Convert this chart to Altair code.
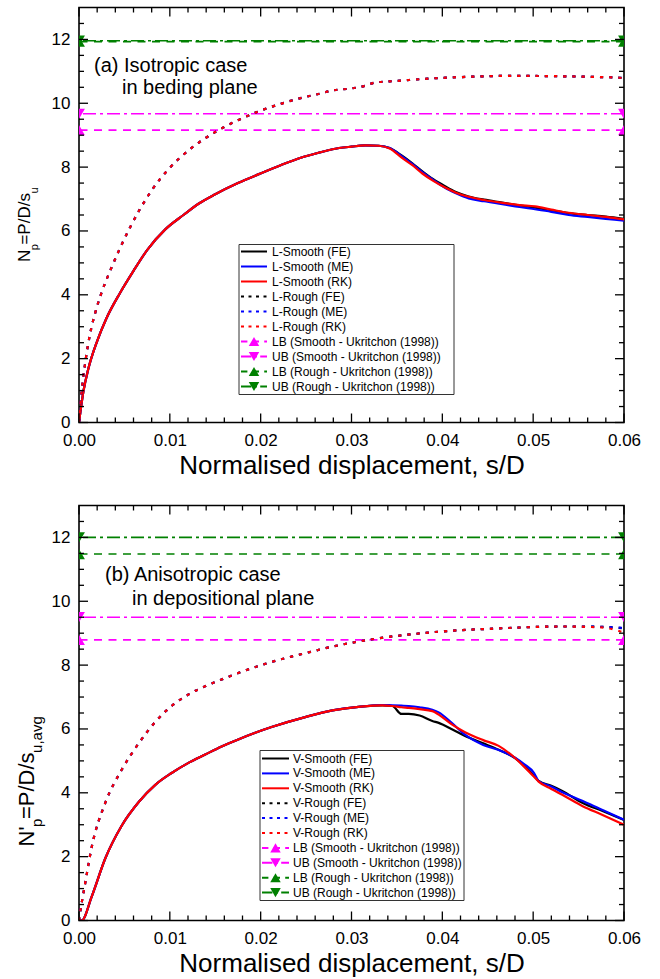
import altair as alt
import pandas as pd

FONT = "Liberation Sans"
W, H = 545, 415

# ---------------- axis ticks ----------------
x_major = [0.0, 0.01, 0.02, 0.03, 0.04, 0.05, 0.06]
x_minor = [0.002, 0.004, 0.006, 0.008, 0.012, 0.014, 0.016, 0.018, 0.022, 0.024,
           0.026, 0.028, 0.032, 0.034, 0.036, 0.038, 0.042, 0.044, 0.046, 0.048,
           0.052, 0.054, 0.056, 0.058]
y_major = [0, 2, 4, 6, 8, 10, 12]
y_minor = [0.5, 1, 1.5, 2.5, 3, 3.5, 4.5, 5, 5.5, 6.5, 7, 7.5, 8.5, 9, 9.5,
           10.5, 11, 11.5, 12.5]

# ---------------- panel (a) data ----------------
a_smooth_x = [0, 0.0005, 0.001, 0.002, 0.003, 0.0045, 0.006, 0.0075, 0.0095, 0.0115,
              0.0132, 0.015, 0.0175, 0.0198, 0.0222, 0.0245, 0.0265, 0.0279, 0.03, 0.0315,
              0.033, 0.0342, 0.0356, 0.0367, 0.0378, 0.039, 0.0403, 0.0415, 0.0429, 0.0446,
              0.0466, 0.0485, 0.0502, 0.052, 0.0539, 0.056, 0.058, 0.06]
a_smooth_fe = [0, 1.0, 1.65, 2.55, 3.25, 4.05, 4.75, 5.4, 6.05, 6.5,
               6.86, 7.15, 7.5, 7.78, 8.06, 8.3, 8.46, 8.56, 8.64, 8.68,
               8.67, 8.6, 8.35, 8.12, 7.87, 7.62, 7.4, 7.22, 7.08, 6.98,
               6.89, 6.8, 6.73, 6.65, 6.56, 6.5, 6.45, 6.38]
a_smooth_me = [0, 1.0, 1.65, 2.55, 3.25, 4.05, 4.75, 5.4, 6.05, 6.5,
               6.86, 7.15, 7.5, 7.78, 8.06, 8.3, 8.46, 8.56, 8.64, 8.68,
               8.67, 8.6, 8.33, 8.1, 7.84, 7.6, 7.35, 7.18, 7.02, 6.93,
               6.84, 6.75, 6.68, 6.6, 6.5, 6.44, 6.38, 6.32]
a_smooth_rk = [0, 1.0, 1.65, 2.55, 3.25, 4.05, 4.75, 5.4, 6.05, 6.5,
               6.86, 7.15, 7.5, 7.78, 8.06, 8.3, 8.46, 8.56, 8.64, 8.68,
               8.67, 8.58, 8.28, 8.06, 7.8, 7.57, 7.36, 7.2, 7.07, 6.97,
               6.88, 6.81, 6.77, 6.67, 6.57, 6.5, 6.44, 6.36]

a_rough_x = [0, 0.0003, 0.0007, 0.0012, 0.0018, 0.0024, 0.0035, 0.0045, 0.0056, 0.0067,
             0.008, 0.0099, 0.0124, 0.015, 0.0175, 0.0198, 0.0222, 0.0245, 0.0265, 0.0279,
             0.0301, 0.0315, 0.0326, 0.035, 0.0389, 0.043, 0.048, 0.052, 0.056, 0.0595, 0.06]
a_rough_fe = [0, 1.0, 1.9, 2.75, 3.45, 4.0, 4.8, 5.45, 6.1, 6.68,
              7.27, 7.95, 8.6, 9.1, 9.47, 9.75, 9.98, 10.17, 10.3, 10.4,
              10.47, 10.55, 10.65, 10.7, 10.78, 10.83, 10.86, 10.85, 10.83, 10.8, 10.78]
a_rough_me = [0, 1.0, 1.9, 2.75, 3.45, 4.0, 4.8, 5.45, 6.1, 6.68,
              7.27, 7.95, 8.6, 9.1, 9.47, 9.75, 9.98, 10.17, 10.3, 10.4,
              10.47, 10.55, 10.65, 10.7, 10.78, 10.83, 10.86, 10.85, 10.83, 10.8, 10.78]
a_rough_rk = [0, 1.0, 1.9, 2.75, 3.45, 4.0, 4.8, 5.45, 6.1, 6.68,
              7.27, 7.95, 8.6, 9.1, 9.47, 9.75, 9.98, 10.17, 10.3, 10.4,
              10.47, 10.55, 10.65, 10.7, 10.78, 10.83, 10.86, 10.85, 10.83, 10.8, 10.77]

# LB smooth, UB smooth, LB rough, UB rough
a_bounds = [9.16, 9.67, 11.93, 11.96]

# ---------------- panel (b) data ----------------
b_smooth_x = [0, 0.0003, 0.0014, 0.0029, 0.0047, 0.0066, 0.0084, 0.0102, 0.012, 0.0139,
              0.0157, 0.0176, 0.0194, 0.0212, 0.025, 0.0279, 0.031, 0.0334, 0.0345, 0.0355,
              0.0363, 0.0375, 0.0389, 0.0396, 0.041, 0.0425, 0.0445, 0.0462, 0.048, 0.049,
              0.0501, 0.0506, 0.052, 0.0532, 0.0554, 0.0577, 0.06]
b_smooth_fe = [0, 0, 0.75, 1.95, 2.97, 3.72, 4.25, 4.62, 4.93, 5.2,
               5.45, 5.68, 5.88, 6.06, 6.38, 6.58, 6.7, 6.74, 6.72, 6.47,
               6.47, 6.42, 6.25, 6.19, 6.0, 5.78, 5.55, 5.35, 5.09, 4.85,
               4.53, 4.37, 4.22, 4.06, 3.69, 3.42, 3.15]
b_smooth_me = [0, 0, 0.75, 1.95, 2.97, 3.72, 4.25, 4.62, 4.93, 5.2,
               5.45, 5.68, 5.88, 6.06, 6.38, 6.58, 6.7, 6.75, 6.74, 6.73,
               6.72, 6.68, 6.6, 6.52, 6.2, 5.82, 5.5, 5.34, 5.1, 4.9,
               4.62, 4.37, 4.2, 4.02, 3.75, 3.45, 3.16]
b_smooth_rk = [0, 0, 0.75, 1.95, 2.97, 3.72, 4.25, 4.62, 4.93, 5.2,
               5.45, 5.68, 5.88, 6.06, 6.38, 6.58, 6.7, 6.74, 6.72, 6.68,
               6.66, 6.62, 6.56, 6.45, 6.15, 5.9, 5.65, 5.47, 5.09, 4.82,
               4.5, 4.35, 4.12, 3.94, 3.59, 3.3, 3.0]

b_rough_x = [0, 0.0001, 0.0007, 0.0014, 0.0029, 0.0047, 0.0066, 0.0084, 0.0102, 0.012,
             0.0139, 0.0157, 0.0176, 0.0212, 0.025, 0.0279, 0.0323, 0.0389, 0.0462, 0.0535,
             0.0575, 0.06]
b_rough_fe = [0, 0.2, 1.2, 2.3, 3.69, 4.72, 5.56, 6.22, 6.72, 7.07,
              7.34, 7.55, 7.76, 8.1, 8.38, 8.58, 8.81, 9.03, 9.15, 9.21,
              9.2, 9.15]
b_rough_me = [0, 0.2, 1.2, 2.3, 3.69, 4.72, 5.56, 6.22, 6.72, 7.07,
              7.34, 7.55, 7.76, 8.1, 8.38, 8.58, 8.81, 9.03, 9.15, 9.21,
              9.2, 9.16]
b_rough_rk = [0, 0.2, 1.2, 2.3, 3.69, 4.72, 5.56, 6.22, 6.72, 7.07,
              7.34, 7.55, 7.76, 8.1, 8.38, 8.58, 8.81, 9.03, 9.15, 9.21,
              9.18, 9.02]

b_bounds = [8.79, 9.5, 11.48, 12.0]

# ---------------- legends / texts ----------------
a_legend = ["L-Smooth (FE)", "L-Smooth (ME)", "L-Smooth (RK)",
            "L-Rough (FE)", "L-Rough (ME)", "L-Rough (RK)",
            "LB (Smooth - Ukritchon (1998))", "UB (Smooth - Ukritchon (1998))",
            "LB (Rough - Ukritchon (1998))", "UB (Rough - Ukritchon (1998))"]
b_legend = ["V-Smooth (FE)", "V-Smooth (ME)", "V-Smooth (RK)",
            "V-Rough (FE)", "V-Rough (ME)", "V-Rough (RK)",
            "LB (Smooth - Ukritchon (1998))", "UB (Smooth - Ukritchon (1998))",
            "LB (Rough - Ukritchon (1998))", "UB (Rough  - Ukritchon (1998))"]
legend_colors = ["#000000", "#0000FF", "#FF0000", "#000000", "#0000FF", "#FF0000",
                 "#FF00FF", "#FF00FF", "#008000", "#008000"]
legend_styles = ["solid", "solid", "solid", "dot", "dot", "dot",
                 "dash", "dashdot", "dash", "dashdot"]
legend_shapes = ["none", "none", "none", "none", "none", "none",
                 "triangle-up", "triangle-down", "triangle-up", "triangle-down"]

a_annot = ["(a) Isotropic case", "in beding plane"]
b_annot = ["(b) Anisotropic case", "in depositional plane"]
x_title = "Normalised displacement, s/D"

DASH = {"solid": None, "dot": [3.2, 6], "dash": [8, 6.5], "dashdot": [13, 4, 3, 4]}
SERIES_COLORS = ["#000000", "#0000FF", "#FF0000"]

ARIAL = {"N": 0.722, "p": 0.556, "=": 0.584, "P": 0.667, "/": 0.278, "D": 0.722,
         "s": 0.5, "u": 0.556, "'": 0.191, ",": 0.278, "a": 0.556, "v": 0.5, "g": 0.556}


def tw(s, fs):
    return sum(ARIAL.get(c, 0.55) for c in s) * fs


XS = alt.Scale(domain=[0, 0.06], nice=False, zero=False)
YS = alt.Scale(domain=[0, 13], nice=False, zero=False)
XAX = alt.Axis(values=x_major, format=".2f", ticks=False, domain=False, grid=False,
               labelFont=FONT, labelFontSize=17, labelPadding=10, labelColor="black",
               labelFlush=False, labelOverlap=False,
               title=x_title, titleFont=FONT, titleFontSize=26, titleFontWeight="normal",
               titleColor="black", titlePadding=4)
YAX = alt.Axis(values=y_major, ticks=False, domain=False, grid=False,
               labelFont=FONT, labelFontSize=17, labelPadding=9, labelColor="black",
               labelFlush=False, labelOverlap=False, title=None)


def X(f):
    return alt.X(f, scale=XS, axis=XAX)


def Y(f):
    return alt.Y(f, scale=YS, axis=YAX)


def line_layer(xv, yv, color, style):
    df = pd.DataFrame({"x": xv, "y": yv})
    kw = dict(color=color, strokeWidth=2.2, interpolate="monotone", clip=True)
    if DASH[style]:
        kw["strokeDash"] = DASH[style]
    return alt.Chart(df).mark_line(**kw).encode(x=X("x:Q"), y=Y("y:Q"))


def bound_layers(val, color, style, shape):
    rdf = pd.DataFrame({"y": [val]})
    rule = alt.Chart(rdf).mark_rule(color=color, strokeWidth=1.6,
                                    strokeDash=DASH[style]).encode(y=Y("y:Q"))
    pdf = pd.DataFrame({"x": [0.0, 0.06], "y": [val, val]})
    pts = alt.Chart(pdf).mark_point(shape=shape, filled=True, size=140, color=color,
                                    opacity=1, clip=True).encode(x=X("x:Q"), y=Y("y:Q"))
    return [rule, pts]


def tick_layers():
    out = []
    for vals, ln in ((x_major, 9), (x_minor, 5)):
        df = pd.DataFrame({"v": vals})
        out.append(alt.Chart(df).mark_rule(color="black", strokeWidth=1.3).encode(
            x=X("v:Q"), y=alt.value(H), y2=alt.value(H - ln)))
        out.append(alt.Chart(df).mark_rule(color="black", strokeWidth=1.3).encode(
            x=X("v:Q"), y=alt.value(0), y2=alt.value(ln)))
    for vals, ln in ((y_major, 9), (y_minor, 5)):
        df = pd.DataFrame({"v": vals})
        out.append(alt.Chart(df).mark_rule(color="black", strokeWidth=1.3).encode(
            y=Y("v:Q"), x=alt.value(0), x2=alt.value(ln)))
        out.append(alt.Chart(df).mark_rule(color="black", strokeWidth=1.3).encode(
            y=Y("v:Q"), x=alt.value(W), x2=alt.value(W - ln)))
    return out


def axis_layer():
    df = pd.DataFrame({"x": [0.0, 0.06], "y": [0, 13]})
    return alt.Chart(df).mark_point(opacity=0).encode(x=X("x:Q"), y=Y("y:Q"))


def ytitle_layers(parts, base_x, sub_x, start_y):
    out = []
    y = start_y
    for txt, fs, is_sub in parts:
        df = pd.DataFrame({"t": [txt]})
        out.append(alt.Chart(df).mark_text(
            angle=270, align="left", baseline="alphabetic", font=FONT, fontSize=fs,
            color="black").encode(
            x=alt.value(sub_x if is_sub else base_x), y=alt.value(y), text="t:N"))
        y -= tw(txt, fs) - 0.5
    return out


def annot_layers(lines, pos):
    out = []
    for txt, (px, py) in zip(lines, pos):
        df = pd.DataFrame({"t": [txt]})
        out.append(alt.Chart(df).mark_text(
            align="left", baseline="alphabetic", font=FONT, fontSize=20, color="black").encode(
            x=alt.value(px), y=alt.value(py), text="t:N"))
    return out


def legend_layers(labels, box, row0, row_h, sw0, sw1, tx):
    df = pd.DataFrame({"label": labels, "color": legend_colors, "style": legend_styles,
                       "shape": legend_shapes, "row": list(range(len(labels)))})
    base = alt.Chart(df).transform_calculate(py=f"{row0} + datum.row * {row_h}")
    out = [alt.Chart(pd.DataFrame({"a": [0]})).mark_rect(
        fill="white", stroke="#333333", strokeWidth=1).encode(
        x=alt.value(box[0]), x2=alt.value(box[1]), y=alt.value(box[2]), y2=alt.value(box[3]))]
    ypix = alt.Y("py:Q", scale=None)
    for style in ("solid", "dot", "dash", "dashdot"):
        kw = dict(strokeWidth=2)
        if DASH[style]:
            kw["strokeDash"] = [d * 0.8 for d in DASH[style]] if style != "dot" else [3, 4.5]
        out.append(base.transform_filter(alt.datum.style == style).mark_rule(**kw).encode(
            x=alt.value(sw0), x2=alt.value(sw1), y=ypix,
            color=alt.Color("color:N", scale=None)))
    out.append(base.transform_filter(alt.datum.shape != "none").mark_point(
        filled=True, size=110, opacity=1).encode(
        x=alt.value((sw0 + sw1) / 2), y=ypix,
        shape=alt.Shape("shape:N", scale=None), color=alt.Color("color:N", scale=None)))
    out.append(base.mark_text(align="left", baseline="middle", font=FONT, fontSize=12,
                              color="black").encode(x=alt.value(tx), y=ypix, text="label:N"))
    return out


def panel(smooth_x, smooth, rough_x, rough, bounds, legend, leg_geom, annot, annot_pos,
          title_parts, title_geom):
    layers = [axis_layer()]
    styles = ["dash", "dashdot", "dash", "dashdot"]
    bcolors = ["#FF00FF", "#FF00FF", "#008000", "#008000"]
    shapes = ["triangle-up", "triangle-down", "triangle-up", "triangle-down"]
    for v, c, s, sh in zip(bounds, bcolors, styles, shapes):
        layers += bound_layers(v, c, s, sh)
    for yv, c in zip(smooth, SERIES_COLORS):
        layers.append(line_layer(smooth_x, yv, c, "solid"))
    for yv, c in zip(rough, SERIES_COLORS):
        layers.append(line_layer(rough_x, yv, c, "dot"))
    layers += tick_layers()
    layers += legend_layers(legend, *leg_geom)
    layers += annot_layers(annot, annot_pos)
    layers += ytitle_layers(title_parts, *title_geom)
    return alt.layer(*layers).properties(width=W, height=H)


pa = panel(a_smooth_x, [a_smooth_fe, a_smooth_me, a_smooth_rk],
           a_rough_x, [a_rough_fe, a_rough_me, a_rough_rk], a_bounds,
           a_legend, ((160, 375, 237, 387), 244, 15, 162, 188, 193),
           a_annot, [(15, 64), (43, 86)],
           [("N", 17, False), ("p", 11, True), ("=P/D/s", 17, False), ("u", 11, True)],
           (-48.7, -41, 254.5))

pb = panel(b_smooth_x, [b_smooth_fe, b_smooth_me, b_smooth_rk],
           b_rough_x, [b_rough_fe, b_rough_me, b_rough_rk], b_bounds,
           b_legend, ((181, 385, 245, 395), 253, 14.9, 183, 210, 214),
           b_annot, [(26, 75), (53, 99)],
           [("N'", 22, False), ("p", 15, True), ("=P/D/s", 22, False), ("u,avg", 15, True)],
           (-44.7, -37, 341))

chart = alt.vconcat(pa, pb, spacing=83, bounds="flush").properties(
    padding={"left": 15, "top": 3.5, "right": 5, "bottom": 1},
    background="white",
).configure_view(stroke="black", strokeWidth=1.6)

chart.save("out.html", embed_options={"renderer": "svg", "actions": False})
